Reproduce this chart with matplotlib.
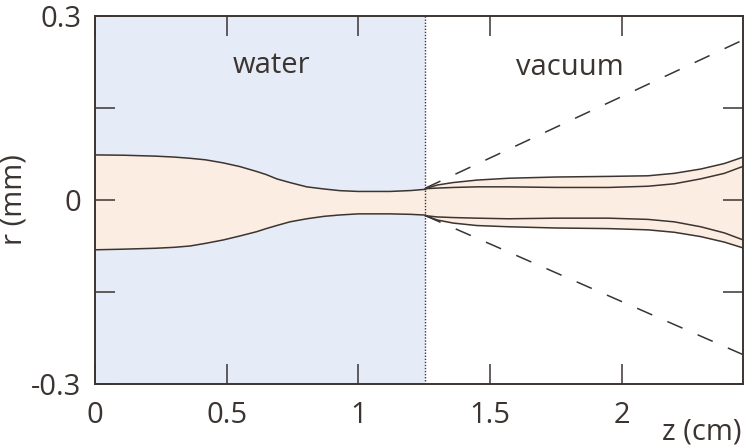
import numpy as np
import matplotlib.pyplot as plt

plt.rcParams['font.family'] = ['Open Sans', 'DejaVu Sans']
plt.rcParams['font.size'] = 21

ink = '#3b3430'
water_blue = '#e5ecf7'
jet_peach = '#fcede2'

# jet radius in the water (mm) vs z (cm)
z_water = [0.0, 0.108, 0.23, 0.30, 0.361, 0.42, 0.487, 0.55, 0.614, 0.65, 0.69,
           0.74, 0.804, 0.87, 0.93, 1.0, 1.12, 1.20, 1.255]
r_water_up = [0.073, 0.0725, 0.071, 0.0695, 0.0675, 0.065, 0.060, 0.054, 0.046, 0.041, 0.034,
              0.028, 0.021, 0.0175, 0.0148, 0.0135, 0.0135, 0.015, 0.017]
r_water_lo = [-0.0815, -0.0805, -0.079, -0.0775, -0.0753, -0.071, -0.0655, -0.059, -0.052, -0.047, -0.042,
              -0.036, -0.031, -0.027, -0.0248, -0.023, -0.023, -0.0238, -0.025]

# jet contours after the nozzle exit, in vacuum
z_vac = [1.255, 1.30, 1.36, 1.45, 1.57, 1.75, 1.95, 2.10, 2.20, 2.30, 2.39, 2.465]
r_out_up = [0.018, 0.024, 0.028, 0.032, 0.035, 0.037, 0.038, 0.039, 0.043, 0.050, 0.059, 0.070]
r_in_up = [0.018, 0.019, 0.020, 0.021, 0.021, 0.020, 0.020, 0.022, 0.026, 0.034, 0.043, 0.055]
r_in_lo = [-0.026, -0.028, -0.029, -0.030, -0.031, -0.030, -0.030, -0.032, -0.036, -0.044, -0.054, -0.066]
r_out_lo = [-0.026, -0.033, -0.038, -0.042, -0.044, -0.046, -0.047, -0.049, -0.053, -0.060, -0.069, -0.079]

# free expansion cone
z_cone = [1.255, 2.465]
r_cone_up = [0.019, 0.261]
r_cone_lo = [-0.026, -0.253]

z_exit = 1.255
x_ticks = [0, 0.5, 1, 1.5, 2]
x_labels = ['0', '0.5', '1', '1.5', '2']
y_ticks = [-0.3, -0.15, 0, 0.15, 0.3]
y_labels = ['-0.3', '', '0', '', '0.3']

fig = plt.figure(figsize=(7.44, 4.48), dpi=100)
ax = fig.add_axes([0.1277, 0.1429, 0.8716, 0.8225])

ax.axvspan(0, z_exit, color=water_blue, lw=0, zorder=0)
ax.fill_between(z_water, r_water_lo, r_water_up, color=jet_peach, lw=0, zorder=1)
ax.fill_between(z_vac, r_out_lo, r_out_up, color=jet_peach, lw=0, zorder=1)

lw = 1.1
for r in (r_water_up, r_water_lo):
    ax.plot(z_water, r, color=ink, lw=lw, zorder=3, solid_joinstyle='round')
for r in (r_out_up, r_in_up, r_in_lo, r_out_lo):
    ax.plot(z_vac, r, color=ink, lw=lw, zorder=3, solid_joinstyle='round')
for r in (r_cone_up, r_cone_lo):
    ax.plot(z_cone, r, color=ink, lw=lw, ls=(0, (10.8, 10.8)), zorder=2)

ax.axvline(z_exit, color=ink, lw=1.0, ls=(0, (1, 1.2)), zorder=2)

ax.text(0.671, 0.206, 'water', ha='center', va='baseline', color=ink)
ax.text(1.802, 0.203, 'vacuum', ha='center', va='baseline', color=ink)

ax.set_xlim(0, 2.4625)
ax.set_ylim(-0.3, 0.3)
ax.set_xticks(x_ticks)
ax.set_xticklabels(x_labels)
ax.set_yticks(y_ticks)
ax.set_yticklabels(y_labels)
ax.tick_params(direction='in', length=14.5, width=1.1, color=ink, labelcolor=ink,
               top=True, right=True)
ax.tick_params(axis='x', pad=12)
ax.tick_params(axis='y', pad=10)
for s in ax.spines.values():
    s.set_color(ink)
    s.set_linewidth(1.4)

ax.set_ylabel('r (mm)', color=ink, labelpad=2)
fig.text(0.997, 0.004, 'z (cm)', ha='right', va='bottom', color=ink)

fig.savefig('out.png', dpi=100)
